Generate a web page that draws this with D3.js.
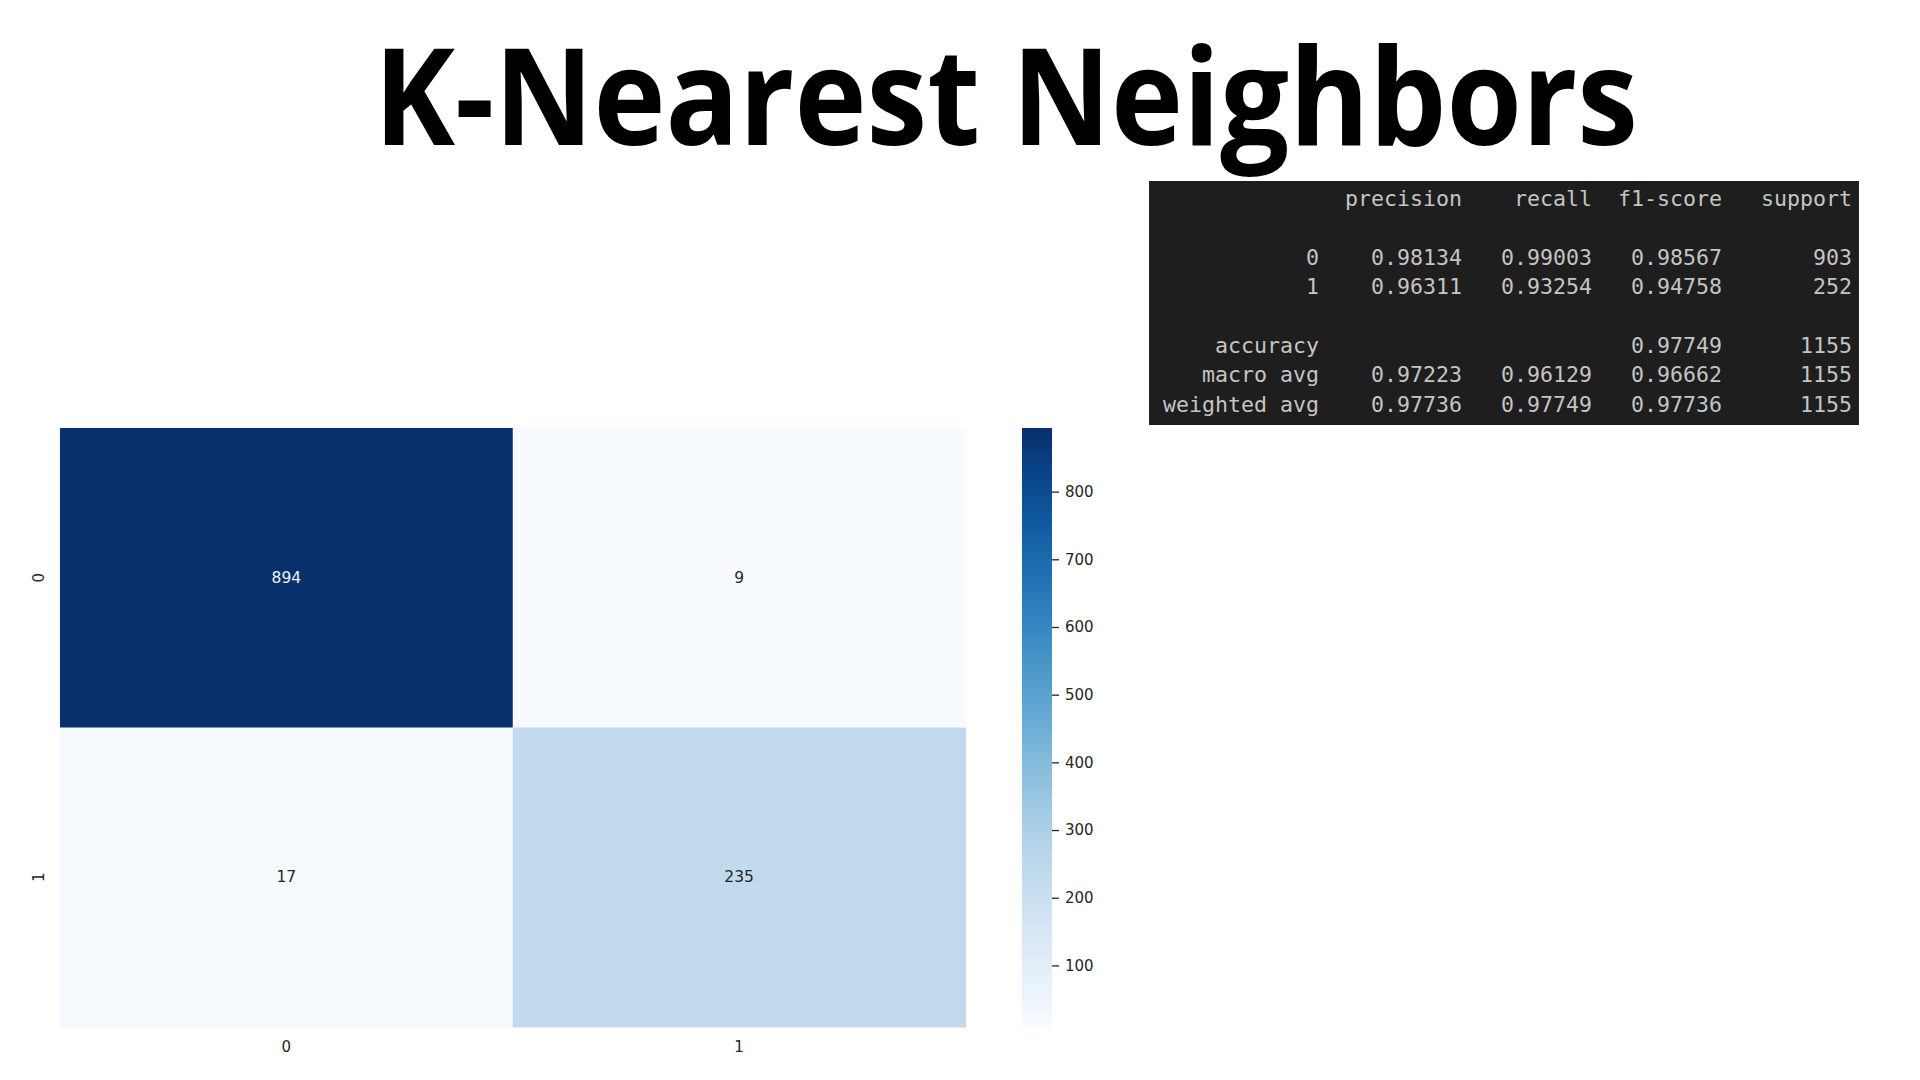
<html>
    <head>
        <meta charset="utf-8">
        <style>
         * {
             box-sizing: border-box;
         }
         body {
             margin: 0;
             background: #ffffff;
         }
         svg {
             display: block;
         }
        </style>
        <script src="https://cdn.jsdelivr.net/npm/d3@7"></script>
    </head>
    <body>
        <svg id="chart" width="1920" height="1080"></svg>
    </body>
    <script>
     // confusion matrix
     var classes = ['0', '1'];
     var matrix = [[894, 9], [17, 235]];
     var cbarTicks = [100, 200, 300, 400, 500, 600, 700, 800];

     // classification report
     var reportHeader = ['precision', 'recall', 'f1-score', 'support'];
     var reportLabels = ['0', '1', 'accuracy', 'macro avg', 'weighted avg'];
     var reportLines = [2, 3, 5, 6, 7];
     var precision = [0.98134, 0.96311, null, 0.97223, 0.97736];
     var recall = [0.99003, 0.93254, null, 0.96129, 0.97749];
     var f1score = [0.98567, 0.94758, 0.97749, 0.96662, 0.97736];
     var support = [903, 252, 1155, 1155, 1155];

     var svg = d3.select('#chart');

     svg.append('text')
        .attr('x', 1006).attr('y', 145)
        .attr('text-anchor', 'middle')
        .attr('font-family', 'Open Sans')
        .attr('font-weight', 700)
        .attr('font-size', 134)
        .attr('textLength', 1264)
        .attr('lengthAdjust', 'spacingAndGlyphs')
        .attr('fill', '#000')
        .text('K-Nearest Neighbors');

     // heatmap
     var cells = [];
     matrix.forEach((row, i) => row.forEach((v, j) => cells.push({r: classes[i], c: classes[j], v: v})));
     var allVals = cells.map(d => d.v);

     var x = d3.scaleBand().domain(classes).range([60, 965.5]);
     var y = d3.scaleBand().domain(classes).range([428, 1027]);
     var color = d3.scaleSequential(d3.interpolateBlues).domain(d3.extent(allVals));

     var hm = svg.append('g');
     hm.selectAll('rect')
       .data(cells)
       .enter().append('rect')
       .attr('x', d => x(d.c))
       .attr('y', d => y(d.r))
       .attr('width', x.bandwidth() + 0.5)
       .attr('height', y.bandwidth() + 0.5)
       .attr('fill', d => color(d.v));

     hm.selectAll('text.annot')
       .data(cells)
       .enter().append('text')
       .attr('class', 'annot')
       .attr('x', d => x(d.c) + x.bandwidth() / 2)
       .attr('y', d => y(d.r) + y.bandwidth() / 2)
       .attr('text-anchor', 'middle')
       .attr('dominant-baseline', 'central')
       .attr('font-family', 'DejaVu Sans')
       .attr('font-size', 15.5)
       .attr('fill', d => (color.domain()[1] - d.v) / (color.domain()[1] - color.domain()[0]) < 0.5 ? '#eef3fb' : '#262626')
       .text(d => d.v);

     // x tick labels
     hm.selectAll('text.xt')
       .data(classes)
       .enter().append('text')
       .attr('class', 'xt')
       .attr('x', d => x(d) + x.bandwidth() / 2)
       .attr('y', 1047)
       .attr('text-anchor', 'middle')
       .attr('dominant-baseline', 'central')
       .attr('font-family', 'DejaVu Sans')
       .attr('font-size', 15)
       .attr('fill', '#262626')
       .text(d => d);

     // y tick labels (rotated like seaborn)
     hm.selectAll('text.yt')
       .data(classes)
       .enter().append('text')
       .attr('class', 'yt')
       .attr('transform', d => 'translate(39,' + (y(d) + y.bandwidth() / 2) + ') rotate(-90)')
       .attr('text-anchor', 'middle')
       .attr('dominant-baseline', 'central')
       .attr('font-family', 'DejaVu Sans')
       .attr('font-size', 15)
       .attr('fill', '#262626')
       .text(d => d);

     // colorbar
     var cbY = d3.scaleLinear().domain(color.domain()).range([1027, 428]);
     var grad = svg.append('defs').append('linearGradient')
                   .attr('id', 'cbar')
                   .attr('x1', 0).attr('y1', 1).attr('x2', 0).attr('y2', 0);
     grad.selectAll('stop')
         .data(d3.range(0, 1.0001, 0.05))
         .enter().append('stop')
         .attr('offset', d => d)
         .attr('stop-color', d => d3.interpolateBlues(d));

     svg.append('rect')
        .attr('x', 1022).attr('y', 428)
        .attr('width', 30).attr('height', 599)
        .attr('fill', 'url(#cbar)');

     var cbAxis = svg.append('g')
                     .attr('transform', 'translate(1052,0)')
                     .call(d3.axisRight(cbY).tickValues(cbarTicks).tickSize(7).tickPadding(6));
     cbAxis.select('.domain').remove();
     cbAxis.selectAll('line').attr('stroke', '#262626').attr('stroke-width', 1.3);
     cbAxis.selectAll('text')
           .attr('font-family', 'DejaVu Sans')
           .attr('font-size', 15)
           .attr('fill', '#262626');

     // classification report panel
     var rep = svg.append('g');
     rep.append('rect')
        .attr('x', 1149).attr('y', 181)
        .attr('width', 710).attr('height', 244)
        .attr('fill', '#1e1e1e');

     var chX = d3.scaleLinear().domain([0, 53]).range([1163, 1163 + 53 * 13]);
     var lineY = d3.scaleLinear().domain([0, 7]).range([198.5, 404.4]);
     var colEnds = [23, 33, 43, 53];
     var fmt = d3.format('.5f');

     var repText = function(sel) {
         return sel.attr('text-anchor', 'end')
                   .attr('dominant-baseline', 'central')
                   .attr('font-family', 'DejaVu Sans Mono')
                   .attr('font-size', 21.6)
                   .attr('fill', '#c4c4c4');
     };

     rep.selectAll('text.hdr')
        .data(reportHeader)
        .enter().append('text')
        .attr('class', 'hdr')
        .attr('x', (d, i) => chX(colEnds[i]))
        .attr('y', lineY(0))
        .call(repText)
        .text(d => d);

     var rows = reportLabels.map((lab, i) => ({
         line: reportLines[i],
         vals: [lab, precision[i] === null ? '' : fmt(precision[i]),
                recall[i] === null ? '' : fmt(recall[i]),
                fmt(f1score[i]), String(support[i])]
     }));
     var ends = [12].concat(colEnds);

     rep.selectAll('g.row')
        .data(rows)
        .enter().append('g')
        .attr('class', 'row')
        .selectAll('text')
        .data(d => d.vals.map((v, k) => ({v: v, k: k, line: d.line})))
        .enter().append('text')
        .attr('x', d => chX(ends[d.k]))
        .attr('y', d => lineY(d.line))
        .call(repText)
        .text(d => d.v);
    </script>
</html>
